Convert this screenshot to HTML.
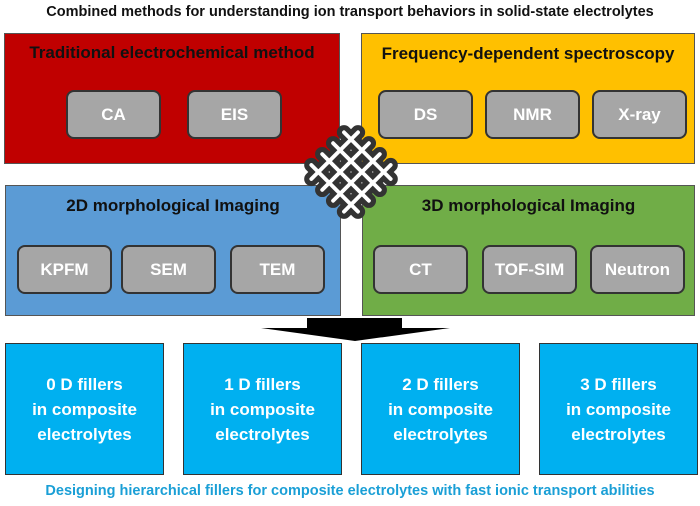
<!DOCTYPE html>
<html><head><meta charset="utf-8"><style>
body{margin:0;width:700px;height:506px;background:#fff;position:relative;overflow:hidden;font-family:"Liberation Sans",sans-serif;}
.a{position:absolute;box-sizing:border-box;}
.p{border:1.5px solid #555;}
.t{position:absolute;font-weight:bold;font-size:16px;text-align:center;color:#111;white-space:nowrap;}
.g{position:absolute;box-sizing:border-box;background:#a6a6a6;border:2px solid #333;border-radius:8px;color:#fff;font-weight:bold;font-size:17px;display:flex;align-items:center;justify-content:center;width:95px;height:49px;}
.f{position:absolute;box-sizing:border-box;background:#00b0f0;border:1.5px solid #333;color:#fff;font-weight:bold;font-size:17px;line-height:25px;display:flex;align-items:center;justify-content:center;text-align:center;top:343px;height:132px;width:159px;}
</style></head><body>
<div class="t" style="left:0;width:700px;top:4px;font-size:14.5px">Combined methods for understanding ion transport behaviors in solid-state electrolytes</div>
<div class="a p" style="left:4px;top:33px;width:336px;height:131px;background:#c00000"></div>
<div class="a p" style="left:361px;top:33px;width:334px;height:131px;background:#ffc000"></div>
<div class="a p" style="left:5px;top:185px;width:336px;height:131px;background:#5b9bd5"></div>
<div class="a p" style="left:362px;top:185px;width:333px;height:131px;background:#70ad47"></div>
<div class="t" style="left:4px;width:336px;top:43px;font-size:17px">Traditional electrochemical method</div>
<div class="t" style="left:361px;width:334px;top:44px;font-size:17px">Frequency-dependent spectroscopy</div>
<div class="t" style="left:5px;width:336px;top:196px;font-size:17px">2D morphological Imaging</div>
<div class="t" style="left:362px;width:333px;top:196px;font-size:17px">3D morphological Imaging</div>
<div class="g" style="left:66px;top:90px">CA</div>
<div class="g" style="left:187px;top:90px">EIS</div>
<div class="g" style="left:378px;top:90px">DS</div>
<div class="g" style="left:485px;top:90px">NMR</div>
<div class="g" style="left:592px;top:90px">X-ray</div>
<div class="g" style="left:17px;top:245px">KPFM</div>
<div class="g" style="left:121px;top:245px">SEM</div>
<div class="g" style="left:230px;top:245px">TEM</div>
<div class="g" style="left:373px;top:245px">CT</div>
<div class="g" style="left:482px;top:245px">TOF-SIM</div>
<div class="g" style="left:590px;top:245px">Neutron</div>
<svg class="a" style="left:296px;top:117px" width="110" height="110" viewBox="0 0 100 100">
<g transform="translate(50,50) rotate(45)" stroke-linecap="round">
<g stroke="#333" stroke-width="13" fill="none">
<path d="M-21,-30 V30 M-7,-30 V30 M7,-30 V30 M21,-30 V30 M-30,-21 H30 M-30,-7 H30 M-30,7 H30 M-30,21 H30"/>
</g>
<g stroke="#fff" stroke-width="3.5" fill="none">
<path d="M-21,-30 V30 M-7,-30 V30 M7,-30 V30 M21,-30 V30 M-30,-21 H30 M-30,-7 H30 M-30,7 H30 M-30,21 H30"/>
</g>
</g></svg>
<svg class="a" style="left:255px;top:317px" width="200" height="26"><rect x="52" y="1" width="95" height="11" fill="#000"/><polygon points="6,11 195,11 100,24" fill="#000"/></svg>
<div class="f" style="left:5px">0 D fillers<br>in composite<br>electrolytes</div>
<div class="f" style="left:183px">1 D fillers<br>in composite<br>electrolytes</div>
<div class="f" style="left:361px">2 D fillers<br>in composite<br>electrolytes</div>
<div class="f" style="left:539px">3 D fillers<br>in composite<br>electrolytes</div>
<div class="t" style="left:0;width:700px;top:483px;font-size:14.5px;color:#1a9fd6">Designing hierarchical fillers for composite electrolytes with fast ionic transport abilities</div>
</body></html>
